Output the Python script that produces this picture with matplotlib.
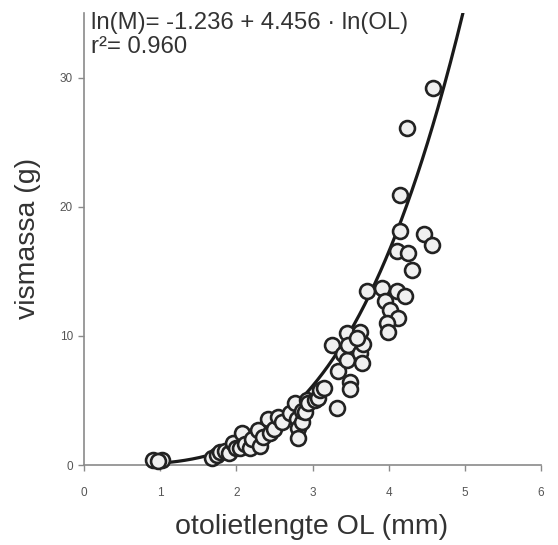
import numpy as np
import matplotlib
matplotlib.use("Agg")
import matplotlib.pyplot as plt

plt.rcParams['font.family'] = ['Liberation Sans', 'DejaVu Sans']

# otolith length (mm) and fish mass (g)
ol = [0.91, 1.02, 0.97,
      1.68, 1.75, 1.78, 1.85, 1.90, 1.96, 2.00, 2.05, 2.07, 2.12, 2.18, 2.20,
      2.28, 2.31, 2.35, 2.41, 2.44, 2.50, 2.55, 2.60, 2.70, 2.77, 2.80, 2.81,
      2.81, 2.86, 2.86, 2.90, 2.93, 2.94, 3.03, 3.07, 3.10, 3.15,
      3.25, 3.33, 3.32, 3.40, 3.45, 3.45, 3.46, 3.49, 3.49, 3.62, 3.62, 3.65,
      3.66, 3.58,
      3.71, 3.91, 3.95, 4.02, 4.11, 4.21, 4.12, 3.98, 3.99, 4.11, 4.15, 4.25,
      4.30, 4.47, 4.57, 4.15, 4.24, 4.58]
mass = [0.40, 0.40, 0.30,
        0.55, 0.80, 1.00, 1.10, 0.90, 1.70, 1.30, 1.30, 2.50, 1.60, 1.30, 2.00,
        2.70, 1.50, 2.20, 3.60, 2.50, 2.80, 3.70, 3.30, 4.00, 4.80, 3.60, 2.90,
        2.10, 3.30, 4.20, 4.10, 5.00, 4.80, 5.00, 5.20, 5.80, 6.00,
        9.30, 7.30, 4.40, 8.60, 10.20, 8.10, 9.30, 6.40, 5.90, 10.30, 8.70, 7.90,
        9.40, 9.80,
        13.50, 13.70, 12.70, 12.00, 13.50, 13.10, 11.40, 11.00, 10.30, 16.60, 18.10, 16.40,
        15.10, 17.90, 17.00, 20.90, 26.10, 29.20]

# drawn power-law curve: ln(M) = fit_a + fit_b * ln(OL)
fit_a = -1.98
fit_b = 3.45
curve_start = 0.87

x_ticks = [0, 1, 2, 3, 4, 5, 6]
y_ticks = [0, 10, 20, 30]
eq_text = "ln(M)= -1.236 + 4.456 · ln(OL)"
r2_text = "r²= 0.960"
x_label = "otolietlengte OL (mm)"
y_label = "vismassa (g)"

fig = plt.figure(figsize=(5.58, 5.45), dpi=100)
ax = fig.add_axes([84/558, 1-465/545, (541-84)/558, (465-13)/545])

xmax_curve = np.exp((np.log(35.0) - fit_a) / fit_b)
xc = np.linspace(curve_start, xmax_curve, 300)
yc = np.exp(fit_a + fit_b * np.log(xc))
ax.plot(xc, yc, color='#1a1a1a', lw=2.3, zorder=2, solid_capstyle='round')

ax.scatter(ol, mass, s=115, facecolor='#f0f0f0', edgecolor='#222222',
           linewidths=1.9, zorder=3, clip_on=False)

ax.set_xlim(0, 6)
ax.set_ylim(0, 35)
ax.set_xticks(x_ticks)
ax.set_yticks(y_ticks)
for s in ['top', 'right']:
    ax.spines[s].set_visible(False)
for s in ['left', 'bottom']:
    ax.spines[s].set_color('#8a8a8a')
    ax.spines[s].set_linewidth(1.2)
ax.tick_params(axis='both', colors='#8a8a8a', labelcolor='#555555',
               labelsize=8.5, length=4, width=1)
ax.tick_params(axis='x', pad=12)
ax.tick_params(axis='y', pad=4)

fig.text(312/558, 1-527/545, x_label, ha='center', va='center',
         fontsize=20.5, color='#333333')
fig.text(28/558, 1-238/545, y_label, ha='center', va='center',
         rotation=90, fontsize=20.5, color='#333333')

fig.text(91/558, 1-12/545, eq_text, ha='left', va='top',
         fontsize=17.2, color='#333333')
fig.text(91/558, 1-36/545, r2_text, ha='left', va='top',
         fontsize=17.2, color='#333333')

fig.savefig('out.png', dpi=100)
